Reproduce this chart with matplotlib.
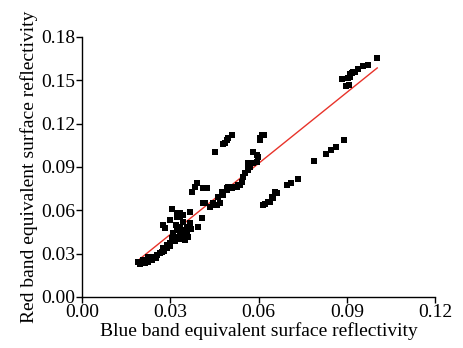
import matplotlib
matplotlib.use('Agg')
import matplotlib.pyplot as plt
import numpy as np

# blue band (x) vs red band (y) equivalent surface reflectivity
blue = [0.0190, 0.0197, 0.0207, 0.0214, 0.0224, 0.0224, 0.0238, 0.0241, 0.0255, 0.0265,
        0.0272, 0.0275, 0.0289, 0.0289, 0.0299, 0.0306, 0.0309, 0.0309, 0.0323, 0.0323,
        0.0333, 0.0333, 0.0343, 0.0350, 0.0340, 0.0350, 0.0357, 0.0360, 0.0357, 0.0367,
        0.0282, 0.0275, 0.0306, 0.0323, 0.0323, 0.0333, 0.0343, 0.0343, 0.0333, 0.0367,
        0.0394, 0.0408, 0.0374, 0.0391, 0.0384, 0.0425, 0.0411,
        0.0411, 0.0418, 0.0435, 0.0445, 0.0445, 0.0459, 0.0462, 0.0469, 0.0476, 0.0479,
        0.0493, 0.0493, 0.0496, 0.0510, 0.0513, 0.0527, 0.0530, 0.0537, 0.0544, 0.0547,
        0.0554, 0.0564, 0.0564, 0.0571, 0.0578, 0.0581, 0.0595, 0.0564, 0.0581, 0.0595, 0.0598,
        0.0452, 0.0479, 0.0486, 0.0493, 0.0496, 0.0510, 0.0605, 0.0612, 0.0619, 0.0605,
        0.0615, 0.0622, 0.0632, 0.0639, 0.0646, 0.0649, 0.0656, 0.0663, 0.0697, 0.0711,
        0.0734, 0.0789, 0.0830, 0.0847, 0.0864, 0.0891,
        0.0884, 0.0898, 0.0908, 0.0904, 0.0911, 0.0918, 0.0911, 0.0921, 0.0928, 0.0938,
        0.0955, 0.0972, 0.1003,
        0.0230, 0.0250, 0.0280, 0.0300, 0.0315, 0.0330, 0.0345, 0.0300, 0.0318, 0.0372]
red = [0.0242, 0.0228, 0.0256, 0.0235, 0.0242, 0.0277, 0.0256, 0.0277, 0.0291, 0.0304,
       0.0311, 0.0339, 0.0339, 0.0360, 0.0374, 0.0408, 0.0394, 0.0443, 0.0415, 0.0464,
       0.0443, 0.0484, 0.0464, 0.0394, 0.0415, 0.0464, 0.0443, 0.0415, 0.0484, 0.0512,
       0.0477, 0.0498, 0.0609, 0.0581, 0.0554, 0.0554, 0.0567, 0.0519, 0.0581, 0.0588,
       0.0484, 0.0547, 0.0727, 0.0789, 0.0761, 0.0754, 0.0754,
       0.0650, 0.0650, 0.0623, 0.0650, 0.0637, 0.0637, 0.0692, 0.0650, 0.0727, 0.0706,
       0.0754, 0.0740, 0.0761, 0.0754, 0.0761, 0.0761, 0.0775, 0.0775, 0.0796, 0.0830,
       0.0858, 0.0879, 0.0900, 0.0900, 0.0927, 0.0927, 0.0934, 0.0927, 0.1003, 0.0983, 0.0969,
       0.1003, 0.1059, 0.1066, 0.1086, 0.1100, 0.1121, 0.1100, 0.1121, 0.1121, 0.1086,
       0.0637, 0.0644, 0.0657, 0.0657, 0.0692, 0.0685, 0.0727, 0.0720, 0.0775, 0.0789,
       0.0817, 0.0941, 0.0990, 0.1017, 0.1038, 0.1086,
       0.1509, 0.1460, 0.1467, 0.1515, 0.1543, 0.1550, 0.1522, 0.1557, 0.1557, 0.1578,
       0.1599, 0.1605, 0.1654,
       0.0265, 0.0270, 0.0320, 0.0350, 0.0390, 0.0400, 0.0430, 0.0530, 0.0500, 0.0470]

# fitted line as drawn in the figure
fit_slope = 1.64
fit_intercept = -0.0060
fit_range = [0.0197, 0.1003]

plt.rcParams['font.family'] = ['Liberation Serif', 'DejaVu Serif']

fig = plt.figure(figsize=(4.63, 3.48), dpi=100)
ax = fig.add_axes([0.177, 0.147, 0.763, 0.747])

ax.scatter(blue, red, marker='s', s=22, color='black', linewidths=0, zorder=3)
fx = np.array(fit_range)
ax.plot(fx, fit_slope * fx + fit_intercept, color='#e8332a', linewidth=1.0, zorder=2)

ax.set_xlim(0, 0.12)
ax.set_ylim(0, 0.18)
ax.set_xticks([0.00, 0.03, 0.06, 0.09, 0.12])
ax.set_yticks([0.00, 0.03, 0.06, 0.09, 0.12, 0.15, 0.18])
ax.set_xticklabels(['0.00', '0.03', '0.06', '0.09', '0.12'])
ax.set_yticklabels(['0.00', '0.03', '0.06', '0.09', '0.12', '0.15', '0.18'])
ax.tick_params(direction='out', length=4, width=1, labelsize=14, pad=1)
ax.spines['top'].set_visible(False)
ax.spines['right'].set_visible(False)
for s in ['left', 'bottom']:
    ax.spines[s].set_linewidth(1)

ax.set_xlabel('Blue band equivalent surface reflectivity', fontsize=14, labelpad=1)
ax.set_ylabel('Red band equivalent surface reflectivity', fontsize=14, labelpad=2)

fig.savefig('out.png', dpi=100)
